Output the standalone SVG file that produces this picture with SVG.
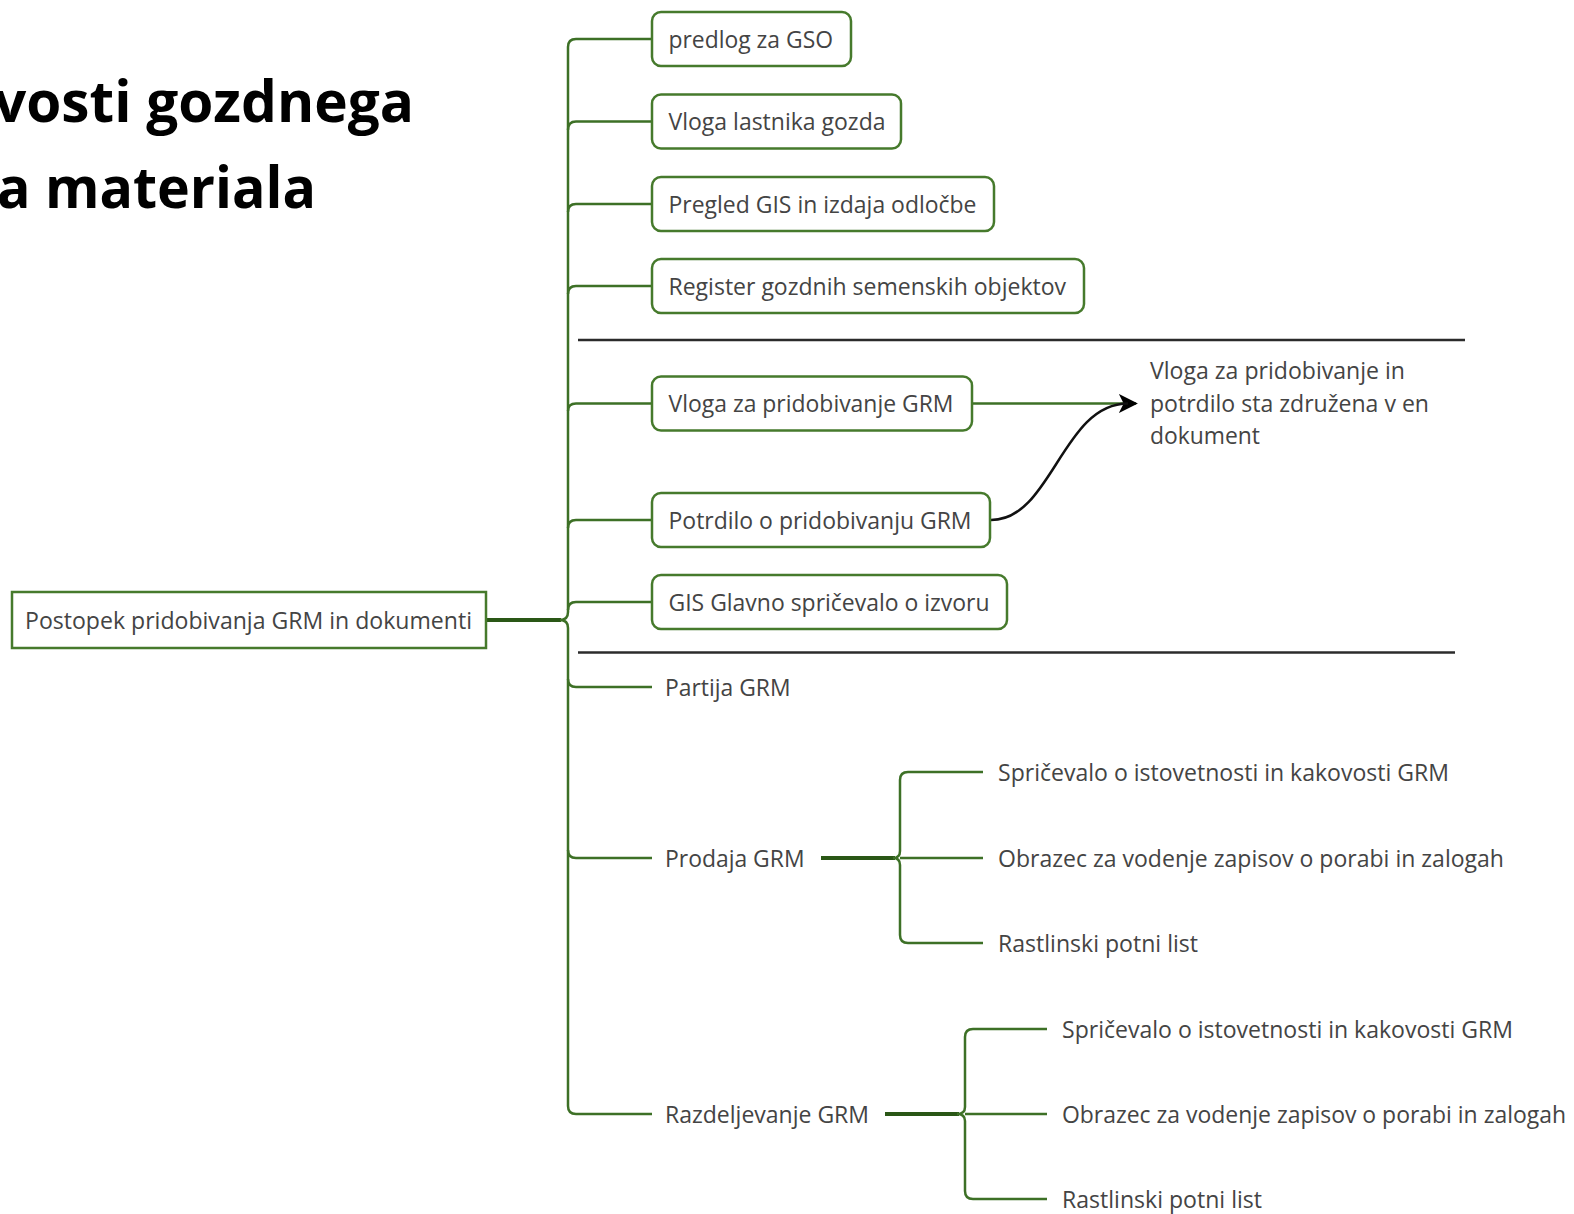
<svg xmlns="http://www.w3.org/2000/svg" width="1574" height="1214" viewBox="0 0 1574 1214">
<style>
.t{font-family:"Open Sans","DejaVu Sans",sans-serif;font-size:24px;fill:#444444}
.title{font-family:"Open Sans","DejaVu Sans",sans-serif;font-size:58px;font-weight:700;fill:#000}
.box{fill:#fff;stroke:#467a2c;stroke-width:2.5}
.c{fill:none;stroke:#3d7026;stroke-width:2.5}
.thick{fill:none;stroke:#2a5716;stroke-width:4}
.sep{stroke:#2b2b2b;stroke-width:2.5}
</style>
<defs>
<marker id="ah" viewBox="0 0 10 10" refX="9" refY="5" markerWidth="19" markerHeight="19" markerUnits="userSpaceOnUse" orient="auto">
<path d="M0,0 L10,5 L0,10 L2.5,5 Z" fill="#000"/>
</marker>
</defs>
<rect width="1574" height="1214" fill="#fff"/>
<text class="title" x="-6" y="122" textLength="420" lengthAdjust="spacingAndGlyphs">vosti gozdnega</text>
<text class="title" x="-3" y="208" textLength="319" lengthAdjust="spacingAndGlyphs">a materiala</text>
<g id="connectors">
<path class="thick" d="M486,620 H561"/>
<path class="c" d="M560,620 Q568,620 568,612 V47 Q568,39 576,39 H652"/>
<path class="c" d="M568,130 Q568,121.5 576,121.5 H652"/>
<path class="c" d="M568,212 Q568,204 576,204 H652"/>
<path class="c" d="M568,294 Q568,286 576,286 H652"/>
<path class="c" d="M568,411 Q568,403.5 576,403.5 H652"/>
<path class="c" d="M568,528 Q568,520 576,520 H652"/>
<path class="c" d="M568,610 Q568,602 576,602 H652"/>
<path class="c" d="M560,620 Q568,620 568,628 V1106 Q568,1114 576,1114 H652"/>
<path class="c" d="M568,679 Q568,687 576,687 H652"/>
<path class="c" d="M568,850 Q568,858 576,858 H652"/>
<path class="thick" d="M821,858 H895"/>
<path class="c" d="M893,858 Q900,858 900,851 V780 Q900,772 908,772 H983"/>
<path class="c" d="M900,858 H983"/>
<path class="c" d="M893,858 Q900,858 900,865 V935 Q900,943 908,943 H983"/>
<path class="thick" d="M885,1114 H959"/>
<path class="c" d="M957,1114 Q965,1114 965,1107 V1037 Q965,1029 973,1029 H1047"/>
<path class="c" d="M965,1114 H1047"/>
<path class="c" d="M957,1114 Q965,1114 965,1121 V1191 Q965,1199 973,1199 H1047"/>
<path class="c" d="M973,403.5 H1136" marker-end="url(#ah)"/>
<path d="M991,520 C1052,520 1062,403.5 1128,403.5" fill="none" stroke="#111" stroke-width="2.5"/>
<line class="sep" x1="578" y1="340" x2="1465" y2="340"/>
<line class="sep" x1="578" y1="652.5" x2="1455" y2="652.5"/>
</g>
<g id="root">
<rect x="12" y="592" width="474" height="56" fill="#fff" stroke="#467a2c" stroke-width="2.5"/>
<text class="t" x="25" y="628.5" textLength="447" lengthAdjust="spacingAndGlyphs">Postopek pridobivanja GRM in dokumenti</text>
</g>
<g id="n1">
<rect class="box" x="652" y="12" width="199" height="54" rx="9"/>
<text class="t" x="668.5" y="47.5" textLength="164.5" lengthAdjust="spacingAndGlyphs">predlog za GSO</text>
</g>
<g id="n2">
<rect class="box" x="652" y="94.5" width="249" height="54" rx="9"/>
<text class="t" x="668.5" y="130" textLength="217" lengthAdjust="spacingAndGlyphs">Vloga lastnika gozda</text>
</g>
<g id="n3">
<rect class="box" x="652" y="177" width="342" height="54" rx="9"/>
<text class="t" x="668.5" y="212.5" textLength="308" lengthAdjust="spacingAndGlyphs">Pregled GIS in izdaja odločbe</text>
</g>
<g id="n4">
<rect class="box" x="652" y="259" width="432" height="54" rx="9"/>
<text class="t" x="668.5" y="294.5" textLength="397.5" lengthAdjust="spacingAndGlyphs">Register gozdnih semenskih objektov</text>
</g>
<g id="n5">
<rect class="box" x="652" y="376.5" width="320" height="54" rx="9"/>
<text class="t" x="668.5" y="412" textLength="285" lengthAdjust="spacingAndGlyphs">Vloga za pridobivanje GRM</text>
</g>
<g id="n6">
<rect class="box" x="652" y="493" width="338" height="54" rx="9"/>
<text class="t" x="668.5" y="528.5" textLength="303" lengthAdjust="spacingAndGlyphs">Potrdilo o pridobivanju GRM</text>
</g>
<g id="n7">
<rect class="box" x="652" y="575" width="355" height="54" rx="9"/>
<text class="t" x="668.5" y="610.5" textLength="321" lengthAdjust="spacingAndGlyphs">GIS Glavno spričevalo o izvoru</text>
</g>
<g id="note">
<text class="t" x="1150" y="379" textLength="255" lengthAdjust="spacingAndGlyphs">Vloga za pridobivanje in</text>
<text class="t" x="1150" y="412" textLength="279" lengthAdjust="spacingAndGlyphs">potrdilo sta združena v en</text>
<text class="t" x="1150" y="444" textLength="110" lengthAdjust="spacingAndGlyphs">dokument</text>
</g>
<g id="n8">
<text class="t" x="665" y="695.5" textLength="125.5" lengthAdjust="spacingAndGlyphs">Partija GRM</text>
</g>
<g id="n9">
<text class="t" x="665" y="866.5" textLength="139.5" lengthAdjust="spacingAndGlyphs">Prodaja GRM</text>
</g>
<g id="n9a">
<text class="t" x="998" y="780.5" textLength="451" lengthAdjust="spacingAndGlyphs">Spričevalo o istovetnosti in kakovosti GRM</text>
</g>
<g id="n9b">
<text class="t" x="998" y="866.5" textLength="506" lengthAdjust="spacingAndGlyphs">Obrazec za vodenje zapisov o porabi in zalogah</text>
</g>
<g id="n9c">
<text class="t" x="998" y="951.5" textLength="200" lengthAdjust="spacingAndGlyphs">Rastlinski potni list</text>
</g>
<g id="n10">
<text class="t" x="665" y="1122.5" textLength="204" lengthAdjust="spacingAndGlyphs">Razdeljevanje GRM</text>
</g>
<g id="n10a">
<text class="t" x="1062" y="1037.5" textLength="451" lengthAdjust="spacingAndGlyphs">Spričevalo o istovetnosti in kakovosti GRM</text>
</g>
<g id="n10b">
<text class="t" x="1062" y="1122.5" textLength="504" lengthAdjust="spacingAndGlyphs">Obrazec za vodenje zapisov o porabi in zalogah</text>
</g>
<g id="n10c">
<text class="t" x="1062" y="1207.5" textLength="200" lengthAdjust="spacingAndGlyphs">Rastlinski potni list</text>
</g>
</svg>
